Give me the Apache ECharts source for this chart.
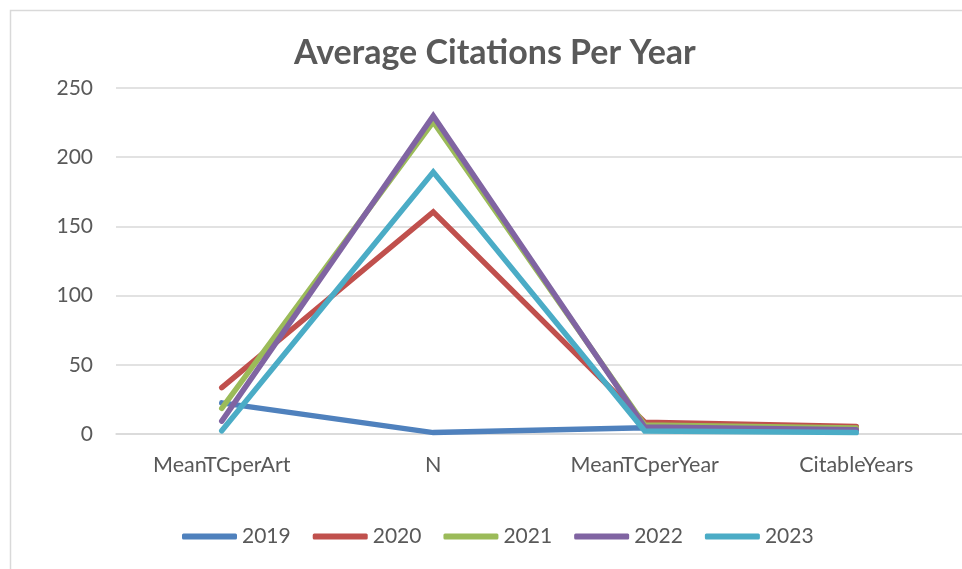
<!DOCTYPE html>
<html>
<head>
<meta charset="utf-8">
<style>
  html, body { margin: 0; padding: 0; background: #fff; }
  #chart { width: 962px; height: 569px; }
</style>
<script src="https://cdn.jsdelivr.net/npm/echarts@6/dist/echarts.min.js"></script>
</head>
<body>
<div id="chart"></div>
<script>
// Bibliometric summary per publication year
const categories = ['MeanTCperArt', 'N', 'MeanTCperYear', 'CitableYears'];
const years = ['2019', '2020', '2021', '2022', '2023'];
const values2019 = [22.5, 1, 4.5, 3];
const values2020 = [33.5, 160.5, 8.5, 5.5];
const values2021 = [18.5, 225.5, 6.5, 4.3];
const values2022 = [9.3, 229.8, 5, 3];
const values2023 = [2.3, 189.3, 2.2, 1];
const yTicks = [0, 50, 100, 150, 200, 250];
const palette = ['#4F81BD', '#C0504D', '#9BBB59', '#8064A2', '#4BACC6'];

const seriesValues = [values2019, values2020, values2021, values2022, values2023];
const font = 'Lato, "Open Sans", sans-serif';

const chart = echarts.init(document.getElementById('chart'), null, { renderer: 'canvas' });
chart.setOption({
  animation: false,
  backgroundColor: '#ffffff',
  color: palette,
  graphic: [{
    type: 'rect',
    shape: { x: 10.5, y: 10.5, width: 1000, height: 600 },
    style: { fill: 'none', stroke: '#d9d9d9', lineWidth: 1.5 },
    silent: true
  }],
  title: {
    text: 'Average Citations Per Year',
    left: 289,
    top: 31,
    textStyle: { fontFamily: font, fontSize: 34, fontWeight: 'bold', color: '#595959' }
  },
  legend: {
    data: years,
    top: 521,
    left: 177,
    icon: 'roundRect',
    itemWidth: 55,
    itemHeight: 6,
    itemGap: 22,
    textStyle: { fontFamily: font, fontSize: 21, color: '#595959' }
  },
  grid: { left: 116, top: 88, width: 860, height: 346, containLabel: false },
  xAxis: {
    type: 'category',
    data: categories,
    boundaryGap: true,
    axisLine: { lineStyle: { color: '#d9d9d9', width: 1.5 } },
    axisTick: { show: false },
    axisLabel: { fontFamily: font, fontSize: 21.5, color: '#595959', margin: 20 }
  },
  yAxis: {
    type: 'value',
    min: yTicks[0],
    max: yTicks[yTicks.length - 1],
    interval: 50,
    axisLine: { show: false },
    axisTick: { show: false },
    splitLine: { lineStyle: { color: '#d9d9d9', width: 1.5 } },
    axisLabel: { fontFamily: font, fontSize: 21, color: '#595959', margin: 23 }
  },
  series: years.map((y, i) => ({
    name: y,
    type: 'line',
    data: seriesValues[i],
    showSymbol: false,
    symbol: 'none',
    lineStyle: { width: 5.5, color: palette[i], cap: 'round', join: 'miter' },
    itemStyle: { color: palette[i] }
  }))
});
</script>
</body>
</html>
